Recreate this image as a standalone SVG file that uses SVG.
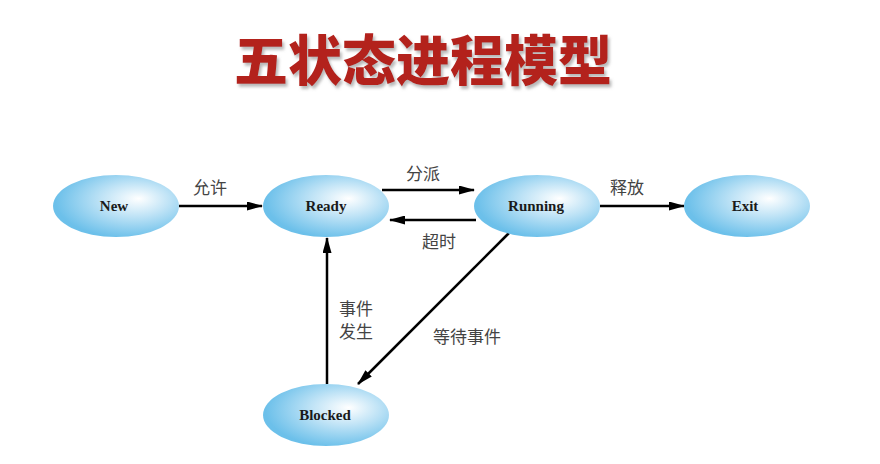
<svg xmlns="http://www.w3.org/2000/svg" width="880" height="464" viewBox="0 0 880 464">
<defs>
<radialGradient id="g" cx="0.62" cy="0.42" r="0.6" fx="0.68" fy="0.38">
<stop offset="0" stop-color="#ffffff"/>
<stop offset="0.45" stop-color="#bfe3f6"/>
<stop offset="1" stop-color="#6cc0ea"/>
</radialGradient>
<marker id="ah" markerWidth="16" markerHeight="9" refX="15" refY="4.5" orient="auto" markerUnits="userSpaceOnUse">
<path d="M0,0 L16,4.5 L0,9 Z" fill="#000"/>
</marker>
<filter id="sh" x="-5%" y="-10%" width="110%" height="130%">
<feDropShadow dx="2" dy="3" stdDeviation="1.5" flood-color="#888" flood-opacity="0.6"/>
</filter>
</defs>
<style>
.node ellipse{fill:url(#g);}
.node text{font-family:"Liberation Serif",serif;font-weight:bold;font-size:15px;fill:#1a1a1a;text-anchor:middle;}
.edge line{stroke:#000;stroke-width:2.5;marker-end:url(#ah);}
.lbl{font-family:"Noto Sans CJK SC",sans-serif;font-size:17px;fill:#444;}
.title{font-family:"Noto Sans CJK SC",sans-serif;font-weight:900;font-size:54px;fill:#b3231e;text-anchor:middle;}
</style>
<rect width="880" height="464" fill="#fff"/>
<text class="title" x="423" y="81" filter="url(#sh)">五状态进程模型</text>
<g id="connectors" class="edge">
<line x1="179" y1="206" x2="262" y2="206"/>
<line x1="382" y1="190" x2="474" y2="190"/>
<line x1="476" y1="220" x2="390" y2="220"/>
<line x1="600" y1="206" x2="684" y2="206"/>
<line x1="327" y1="384" x2="327" y2="238"/>
<line x1="509" y1="233" x2="358" y2="384"/>
</g>
<g id="labels">
<text class="lbl" x="193" y="194">允许</text>
<text class="lbl" x="406" y="180">分派</text>
<text class="lbl" x="422" y="248">超时</text>
<text class="lbl" x="610" y="194">释放</text>
<text class="lbl" x="339" y="315">事件</text>
<text class="lbl" x="339" y="338">发生</text>
<text class="lbl" x="433" y="343">等待事件</text>
</g>
<g id="new" class="node"><ellipse cx="116" cy="206" rx="63" ry="31"/><text x="114" y="211">New</text></g>
<g id="ready" class="node"><ellipse cx="326" cy="206" rx="63" ry="31"/><text x="326" y="211">Ready</text></g>
<g id="running" class="node"><ellipse cx="537" cy="206" rx="63" ry="31"/><text x="536" y="211">Running</text></g>
<g id="exit" class="node"><ellipse cx="747" cy="206" rx="63" ry="31"/><text x="745" y="211">Exit</text></g>
<g id="blocked" class="node"><ellipse cx="326" cy="415" rx="63" ry="31"/><text x="325" y="420">Blocked</text></g>
</svg>
